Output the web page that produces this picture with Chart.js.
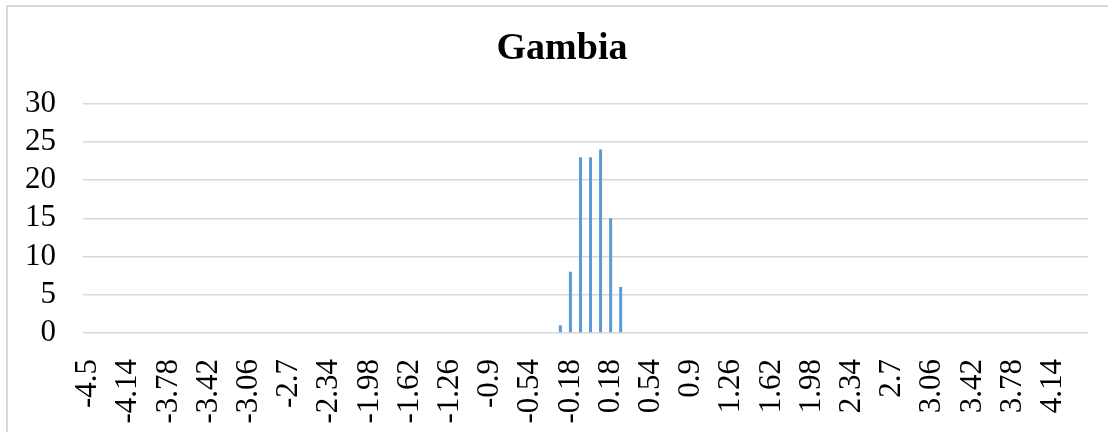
<!DOCTYPE html>
<html lang="en">
<head>
  <meta charset="UTF-8" />
  <title>Gambia</title>
  <script src="https://cdn.jsdelivr.net/npm/chart.js"></script>
  <style>
    html,body { margin:0; padding:0; background:#fff; overflow:hidden; }
    #wrap     { position:relative; width:1108px; height:432px; }
    #frame    { position:absolute; left:6px; top:5px; width:1200px; height:500px;
                border-left:2px solid #d9d9d9; border-top:2px solid #d9d9d9; pointer-events:none; }
  </style>
</head>
<body>
<div id="wrap">
  <canvas id="chart" width="1108" height="432"></canvas>
  <div id="frame"></div>
</div>

<script>
  /* ---------- data ---------- */
  const categories = [
    -4.5, -4.41, -4.32, -4.23, -4.14, -4.05, -3.96, -3.87, -3.78, -3.69,
    -3.6, -3.51, -3.42, -3.33, -3.24, -3.15, -3.06, -2.97, -2.88, -2.79,
    -2.7, -2.61, -2.52, -2.43, -2.34, -2.25, -2.16, -2.07, -1.98, -1.89,
    -1.8, -1.71, -1.62, -1.53, -1.44, -1.35, -1.26, -1.17, -1.08, -0.99,
    -0.9, -0.81, -0.72, -0.63, -0.54, -0.45, -0.36, -0.27, -0.18, -0.09,
    0, 0.09, 0.18, 0.27, 0.36, 0.45, 0.54, 0.63, 0.72, 0.81,
    0.9, 0.99, 1.08, 1.17, 1.26, 1.35, 1.44, 1.53, 1.62, 1.71,
    1.8, 1.89, 1.98, 2.07, 2.16, 2.25, 2.34, 2.43, 2.52, 2.61,
    2.7, 2.79, 2.88, 2.97, 3.06, 3.15, 3.24, 3.33, 3.42, 3.51,
    3.6, 3.69, 3.78, 3.87, 3.96, 4.05, 4.14, 4.23, 4.32, 4.41
  ];
  const counts = [
    0, 0, 0, 0, 0, 0, 0, 0, 0, 0,
    0, 0, 0, 0, 0, 0, 0, 0, 0, 0,
    0, 0, 0, 0, 0, 0, 0, 0, 0, 0,
    0, 0, 0, 0, 0, 0, 0, 0, 0, 0,
    0, 0, 0, 0, 0, 0, 0, 1, 8, 23,
    23, 24, 15, 6, 0, 0, 0, 0, 0, 0,
    0, 0, 0, 0, 0, 0, 0, 0, 0, 0,
    0, 0, 0, 0, 0, 0, 0, 0, 0, 0,
    0, 0, 0, 0, 0, 0, 0, 0, 0, 0,
    0, 0, 0, 0, 0, 0, 0, 0, 0, 0
  ];
  const yTicks = [0, 5, 10, 15, 20, 25, 30];
  const labelEvery = 4;

  const serif = '"Liberation Serif", "Times New Roman", serif';

  // nudge the title to the right (the original centres it a bit right of the canvas middle)
  const titleShift = {
    id: 'titleShift',
    afterLayout(chart) {
      if (chart.titleBlock) chart.titleBlock.left += 36;
    }
  };

  new Chart(document.getElementById('chart'), {
    type: 'bar',
    data: {
      labels: categories.map(String),
      datasets: [{ data: counts, backgroundColor: '#5b9bd5',
                   barPercentage: 0.3, categoryPercentage: 1.0 }]
    },
    options: {
      responsive: false, animation: false,
      layout: { padding: { left: 0, right: 20, top: 0, bottom: 0 } },
      plugins: {
        legend: { display: false },
        tooltip: { enabled: false },
        title: { display: true, text: 'Gambia', color: '#000',
                 font: { family: serif, size: 38, weight: 'bold', lineHeight: 1.2 },
                 padding: { top: 26, bottom: 32 } }
      },
      scales: {
        x: {
          grid: { display: false },
          border: { display: false },
          ticks: {
            autoSkip: false, minRotation: 90, maxRotation: 90, padding: 18,
            color: '#000', font: { family: serif, size: 31 },
            callback: (v, i) => i % labelEvery === 0 ? categories[i] : ''
          },
          afterFit: s => { s.height = 99; s.paddingLeft = 0; s.paddingRight = 0; }
        },
        y: {
          min: yTicks[0], max: yTicks[yTicks.length - 1],
          afterBuildTicks: s => { s.ticks = yTicks.map(v => ({ value: v })); },
          grid: { color: '#d9d9d9', lineWidth: 1.5, drawTicks: false },
          border: { display: false },
          ticks: { autoSkip: false, padding: 27, color: '#000',
                   font: { family: serif, size: 31 } },
          afterFit: s => { s.width = 83; }
        }
      }
    },
    plugins: [titleShift]
  });
</script>
</body>
</html>
